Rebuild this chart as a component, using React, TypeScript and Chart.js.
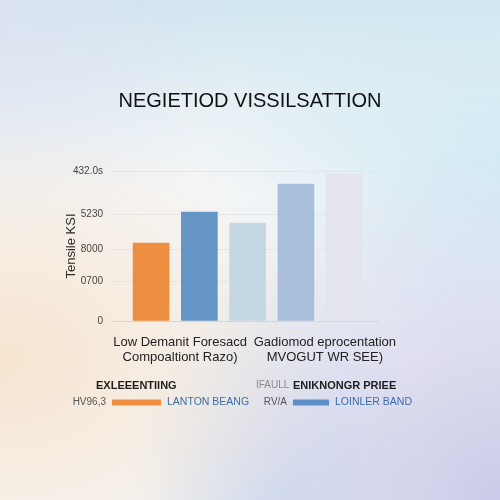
import React, { useEffect, useRef } from "react";
import { Chart, registerables } from "chart.js";

Chart.register(...registerables);

const chartTitle = "NEGIETIOD VISSILSATTION";
const yAxisTitle = "Tensile KSI";
const barPositions = [1, 2, 3, 4, 5];
const barValues = [78, 109, 98, 137, 147];
const barColors = ["#EE8E40", "#6595C5", "#C3D7E5", "#A9BEDA", "#E4E4EE"];
const yTickValues = [0, 40, 72, 107, 150];
const yTickLabels = ["0", "0700", "8000", "5230", "432.0s"];
const groupPositions = [1.6, 4.6];
const groupLabels = [
  ["Low Demanit Foresacd", "Compoaltiont Razo)"],
  ["Gadiomod eprocentation", "MVOGUT WR SEE)"],
];
const legendHeadPrefixes = ["", "IFAULL"];
const legendHeadTexts = ["EXLEEENTIING", "ENIKNONGR PRIEE"];
const legendPrefixes = ["HV96,3", "RV/A"];
const legendLabels = ["LANTON BEANG", "LOINLER BAND"];
const legendColors = ["#EE8E40", "#5E8FC6"];

const FONT = "'Liberation Sans', Arial, sans-serif";

const legendPlugin = {
  id: "customLegend",
  afterDraw(chart: any) {
    const ctx = chart.ctx;
    ctx.save();
    ctx.textBaseline = "middle";
    const y1 = 385.5;
    ctx.textAlign = "left";
    ctx.font = `bold 11px ${FONT}`;
    ctx.fillStyle = "#1e1e1e";
    ctx.fillText(legendHeadTexts[0], 96, y1);
    ctx.font = `10px ${FONT}`;
    ctx.fillStyle = "#8a8a8a";
    ctx.fillText(legendHeadPrefixes[1], 256, y1);
    ctx.font = `bold 11px ${FONT}`;
    ctx.fillStyle = "#1e1e1e";
    ctx.fillText(legendHeadTexts[1], 293, y1);
    const y2 = 402.5;
    const items = [
      { px: 106, lx0: 112, lx1: 161, tx: 167 },
      { px: 287, lx0: 293, lx1: 329, tx: 335 },
    ];
    items.forEach((it, i) => {
      ctx.font = `10px ${FONT}`;
      ctx.fillStyle = "#555";
      ctx.textAlign = "right";
      ctx.fillText(legendPrefixes[i], it.px, y2);
      ctx.fillStyle = legendColors[i];
      ctx.fillRect(it.lx0, y2 - 3, it.lx1 - it.lx0, 6);
      ctx.textAlign = "left";
      ctx.font = `10.5px ${FONT}`;
      ctx.fillStyle = "#3D6EA7";
      ctx.fillText(legendLabels[i], it.tx, y2);
    });
    ctx.restore();
  },
};

export default function App() {
  const ref = useRef<HTMLCanvasElement>(null);
  useEffect(() => {
    if (!ref.current) return;
    Chart.defaults.font.family = FONT;
    const chart = new Chart(ref.current, {
      type: "bar",
      data: {
        datasets: [
          {
            data: barPositions.map((x, i) => ({ x, y: barValues[i] })),
            backgroundColor: barColors,
            barThickness: 36,
            borderWidth: 0,
          },
        ],
      },
      options: {
        animation: false,
        responsive: false,
        devicePixelRatio: 1,
        layout: { padding: { left: 0, right: 0, top: 0, bottom: 119 } },
        plugins: {
          legend: { display: false },
          tooltip: { enabled: false },
          title: {
            display: true,
            text: chartTitle,
            color: "#111",
            font: { size: 20, weight: "normal", family: FONT },
            padding: { top: 89, bottom: 58 },
          },
        },
        scales: {
          x: {
            type: "linear",
            min: 0.17,
            max: 5.7,
            offset: false,
            grid: { display: false, offset: false },
            border: { display: true, color: "#d3d6da" },
            afterBuildTicks: (scale: any) => {
              scale.ticks = groupPositions.map((v) => ({ value: v }));
            },
            afterFit: (scale: any) => {
              scale.height = 60;
            },
            ticks: {
              padding: 6,
              color: "#222",
              font: { size: 13, family: FONT, lineHeight: 1.15 },
              maxRotation: 0,
              autoSkip: false,
              callback: (_v: any, i: number) => groupLabels[i],
            },
          },
          y: {
            type: "linear",
            min: 0,
            max: 150,
            position: "left",
            grid: { color: "#e3e5e8", drawTicks: false },
            border: { display: false },
            afterBuildTicks: (scale: any) => {
              scale.ticks = yTickValues.map((v) => ({ value: v }));
            },
            afterFit: (scale: any) => {
              scale.width = 111;
            },
            ticks: {
              padding: 8,
              color: "#444",
              font: { size: 10, family: FONT },
              callback: (_v: any, i: number) => yTickLabels[i],
            },
            title: {
              display: true,
              text: yAxisTitle,
              color: "#2a2a2a",
              font: { size: 13, family: FONT },
              padding: { top: 64, bottom: 0 },
            },
          },
          yRight: {
            type: "linear",
            position: "right",
            display: true,
            grid: { display: false },
            border: { display: false },
            ticks: { display: false },
            afterFit: (scale: any) => {
              scale.width = 122;
            },
          },
        },
      } as any,
      plugins: [legendPlugin],
    });
    return () => chart.destroy();
  }, []);

  return (
    <div
      style={{
        position: "fixed",
        left: 0,
        top: 0,
        width: 500,
        height: 500,
        background:
          "radial-gradient(ellipse at 0% 72%, rgba(247,228,206,0.95), rgba(247,228,206,0) 48%)," +
          "radial-gradient(ellipse at 100% 100%, rgba(200,200,232,0.95), rgba(200,200,232,0) 50%)," +
          "radial-gradient(ellipse at 55% 108%, rgba(206,222,240,0.85), rgba(206,222,240,0) 40%)," +
          "radial-gradient(ellipse at 100% 32%, rgba(208,234,244,0.9), rgba(208,234,244,0) 42%)," +
          "radial-gradient(ellipse at 0% 0%, rgba(222,224,240,0.7), rgba(222,224,240,0) 35%)," +
          "linear-gradient(to bottom, rgba(206,229,239,0.95) 0%, rgba(218,235,242,0.6) 18%, rgba(240,244,246,0) 38%)," +
          "#f5f6f7",
      }}
    >
      <canvas ref={ref} width={500} height={500} style={{ display: "block" }} />
    </div>
  );
}
